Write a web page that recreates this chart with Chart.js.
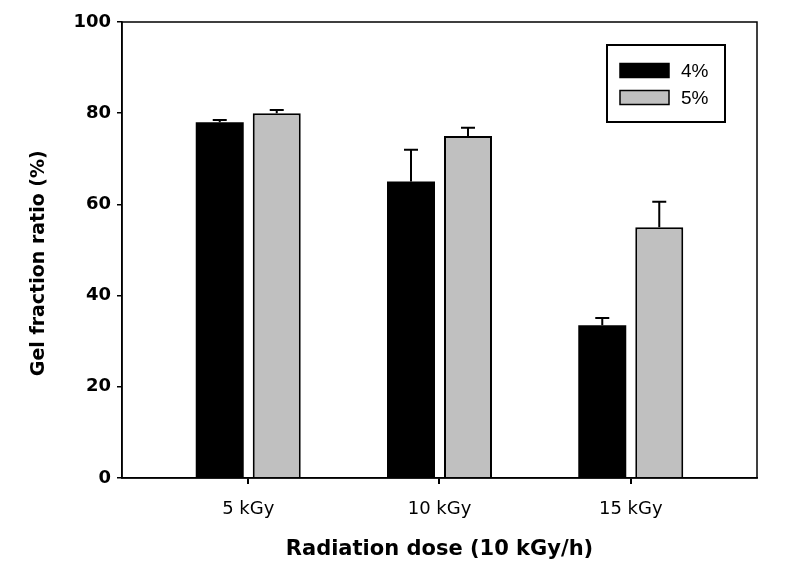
<!DOCTYPE html>
<html>
<head>
<meta charset="utf-8">
<script src="https://cdn.jsdelivr.net/npm/chart.js@4/dist/chart.umd.min.js"></script>
<style>
html,body{margin:0;padding:0;background:#fff;}
#wrap{width:798px;height:568px;position:relative;}
</style>
</head>
<body>
<div id="wrap"><canvas id="c" width="798" height="568"></canvas></div>
<script>
const categories = ['5 kGy', '10 kGy', '15 kGy'];
const categoryPositions = [1, 2, 3];
const seriesLabels = ['4%', '5%'];
const values4 = [78, 65, 33.5];
const errors4 = [0.5, 7, 1.6];
const values5 = [80, 75, 55];
const errors5 = [0.7, 1.8, 5.6];
const yTicks = [0, 20, 40, 60, 80, 100];

const FONT = '"Liberation Sans", Arial, sans-serif';
const AXFONT = '"DejaVu Sans", sans-serif';

const errorBarPlugin = {
  id: 'errorBars',
  afterDatasetsDraw(chart) {
    const ctx = chart.ctx;
    const ys = chart.scales.y;
    chart.data.datasets.forEach((ds, di) => {
      const meta = chart.getDatasetMeta(di);
      meta.data.forEach((el, i) => {
        const v = ds.data[i].y;
        const e = ds.errors[i];
        const top = ys.getPixelForValue(v + e);
        ctx.save();
        ctx.strokeStyle = '#000';
        ctx.lineWidth = 2;
        ctx.beginPath();
        ctx.moveTo(el.x, el.y);
        ctx.lineTo(el.x, top);
        ctx.moveTo(el.x - 7, top);
        ctx.lineTo(el.x + 7, top);
        ctx.stroke();
        ctx.restore();
      });
    });
  }
};

const framePlugin = {
  id: 'frame',
  afterDraw(chart) {
    const {ctx, chartArea: a} = chart;
    ctx.save();
    ctx.strokeStyle = '#000';
    ctx.lineWidth = 1.5;
    ctx.strokeRect(a.left, a.top, a.right - a.left, a.bottom - a.top);
    // legend box
    ctx.lineWidth = 2;
    ctx.strokeRect(607, 45, 118, 77);
    const rows = [70.5, 97.5];
    chart.data.datasets.forEach((ds, i) => {
      const cy = rows[i];
      ctx.fillStyle = ds.backgroundColor;
      ctx.fillRect(620, cy - 7, 49, 14);
      ctx.lineWidth = 1.5;
      ctx.strokeStyle = '#000';
      ctx.strokeRect(620, cy - 7, 49, 14);
      ctx.fillStyle = '#000';
      ctx.font = '19px ' + FONT;
      ctx.textBaseline = 'middle';
      ctx.textAlign = 'left';
      ctx.fillText(ds.label, 681, cy + 1);
    });
    ctx.restore();
  }
};

const chart = new Chart(document.getElementById('c'), {
  type: 'bar',
  data: {
    datasets: [
      {
        label: seriesLabels[0],
        data: categoryPositions.map((x, i) => ({x: x, y: values4[i]})),
        errors: errors4,
        backgroundColor: '#000000',
        borderColor: '#000000',
        borderWidth: 0,
        categoryPercentage: 0.596,
        barPercentage: 0.842
      },
      {
        label: seriesLabels[1],
        data: categoryPositions.map((x, i) => ({x: x, y: values5[i]})),
        errors: errors5,
        backgroundColor: '#c0c0c0',
        borderColor: '#000000',
        borderWidth: 2,
        categoryPercentage: 0.596,
        barPercentage: 0.842
      }
    ]
  },
  options: {
    responsive: false,
    animation: false,
    layout: {padding: {top: 22, right: 41, left: 0, bottom: 0}},
    plugins: {legend: {display: false}, tooltip: {enabled: false}},
    scales: {
      x: {
        type: 'linear',
        offset: false,
        min: 0.34,
        max: 3.66,
        afterBuildTicks(scale) {
          scale.ticks = categoryPositions.map(v => ({value: v}));
        },
        afterFit(scale) { scale.height = 90; },
        ticks: {
          callback: (v) => {
            const i = categoryPositions.indexOf(v);
            return i >= 0 ? categories[i] : '';
          },
          font: {family: AXFONT, size: 18},
          color: '#000',
          padding: 15,
          maxRotation: 0,
          autoSkip: false
        },
        grid: {display: true, offset: false, drawOnChartArea: false, drawTicks: true, tickLength: 6, color: '#000', lineWidth: 2},
        border: {display: true, color: '#000', width: 1.5},
        title: {
          display: true,
          text: 'Radiation dose (10 kGy/h)',
          font: {family: AXFONT, size: 21, weight: 'bold'},
          color: '#000',
          padding: {top: 4, bottom: 6}
        }
      },
      y: {
        min: 0,
        max: 100,
        afterBuildTicks(scale) {
          scale.ticks = yTicks.map(v => ({value: v}));
        },
        afterFit(scale) { scale.width = 122; },
        ticks: {
          font: {family: AXFONT, size: 18, weight: 'bold'},
          color: '#000',
          padding: 6
        },
        grid: {display: true, drawOnChartArea: false, drawTicks: true, tickLength: 5, color: '#000', lineWidth: 1.5},
        border: {display: true, color: '#000', width: 1.5},
        title: {
          display: true,
          text: 'Gel fraction ratio (%)    ',
          font: {family: AXFONT, size: 19, weight: 'bold'},
          color: '#000',
          padding: {top: 28, bottom: 4}
        }
      }
    }
  },
  plugins: [errorBarPlugin, framePlugin]
});
</script>
</body>
</html>
